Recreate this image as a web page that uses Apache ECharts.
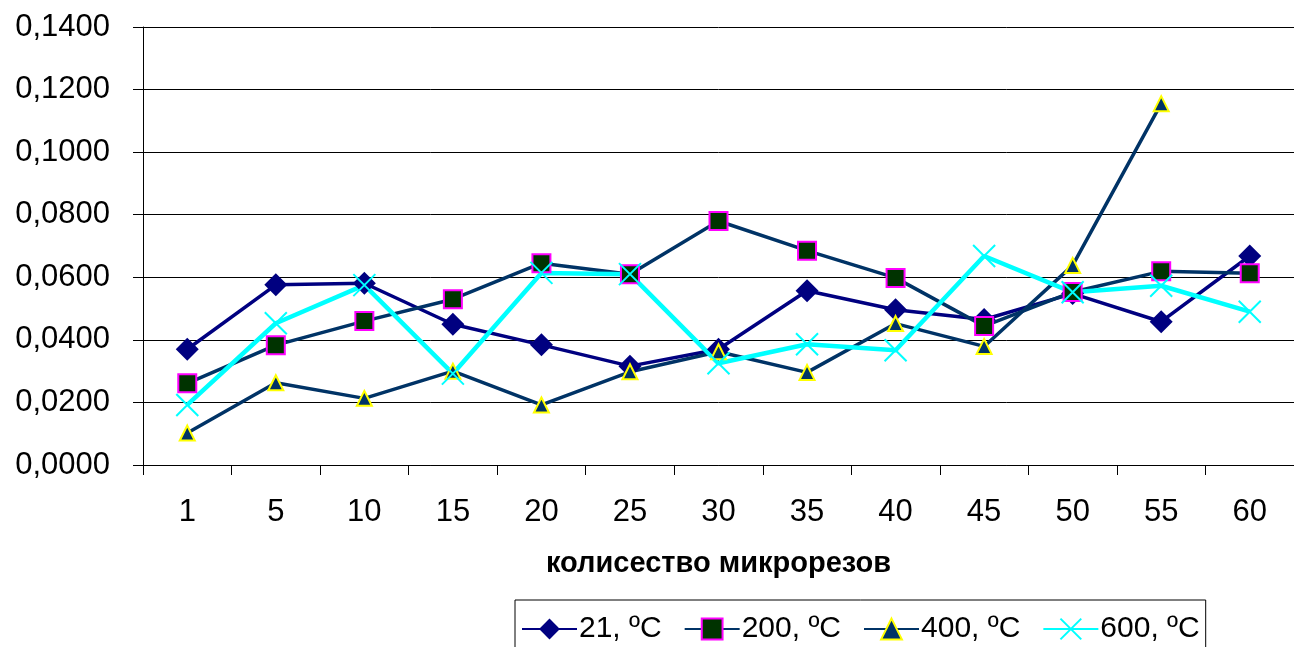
<!DOCTYPE html>
<html>
<head>
<meta charset="utf-8">
<script src="https://cdn.jsdelivr.net/npm/echarts@6/dist/echarts.min.js"></script>
<style>
  html, body { margin: 0; padding: 0; background: #fff; }
  #chart { width: 1294px; height: 647px; }
</style>
</head>
<body>
<div id="chart"></div>
<script>
// Number of micro-cuts (x categories)
const categories = ['1', '5', '10', '15', '20', '25', '30', '35', '40', '45', '50', '55', '60'];

// Measured values for each temperature
const t21  = [0.0370, 0.0576, 0.0581, 0.0450, 0.0384, 0.0316, 0.0370, 0.0557, 0.0496, 0.0465, 0.0548, 0.0458, 0.0668];
const t200 = [0.0261, 0.0383, 0.0460, 0.0530, 0.0645, 0.0610, 0.0780, 0.0685, 0.0598, 0.0444, 0.0553, 0.0619, 0.0613];
const t400 = [0.0102, 0.0263, 0.0213, 0.0300, 0.0192, 0.0298, 0.0362, 0.0296, 0.0452, 0.0379, 0.0638, 0.1155, null];
const t600 = [0.0192, 0.0453, 0.0575, 0.0292, 0.0614, 0.0610, 0.0325, 0.0386, 0.0367, 0.0668, 0.0552, 0.0573, 0.0490];

const seriesNames = ['21, ºC', '200, ºC', '400, ºC', '600, ºC'];
const yTicks = { min: 0, max: 0.14, step: 0.02 };
const xTitle = 'колисество микрорезов';

const FONT = "'Liberation Sans', Arial, sans-serif";
const chart = echarts.init(document.getElementById('chart'), null, { renderer: 'canvas' });

chart.setOption({
  animation: false,
  backgroundColor: '#ffffff',
  textStyle: { fontFamily: FONT },
  grid: { left: 143, right: -9, top: 27, bottom: 182, containLabel: false },
  legend: {
    left: 515,
    top: 600,
    padding: [14, 6, 14, 6],
    itemGap: 22,
    itemWidth: 55,
    itemHeight: 26,
    borderColor: '#000',
    borderWidth: 1,
    textStyle: { fontFamily: FONT, fontSize: 30, color: '#000', padding: [0, 0, 0, -3] },
    data: seriesNames
  },
  xAxis: {
    type: 'category',
    data: categories,
    boundaryGap: true,
    axisLine: { lineStyle: { color: '#000', width: 1 } },
    axisTick: { show: true, length: 10, lineStyle: { color: '#000' } },
    axisLabel: { fontFamily: FONT, fontSize: 31, color: '#000', margin: 32 },
    name: xTitle,
    nameLocation: 'middle',
    nameGap: 84,
    nameTextStyle: { fontFamily: FONT, fontSize: 29, fontWeight: 'bold', color: '#000' }
  },
  yAxis: {
    type: 'value',
    min: yTicks.min,
    max: yTicks.max,
    interval: yTicks.step,
    axisLine: { show: true, lineStyle: { color: '#000', width: 1 } },
    axisTick: { show: true, length: 10, lineStyle: { color: '#000' } },
    axisLabel: {
      fontFamily: FONT, fontSize: 31, color: '#000', margin: 33,
      formatter: v => v.toFixed(4).replace('.', ',')
    },
    splitLine: { show: true, lineStyle: { color: '#000', width: 1 } }
  },
  series: [
    {
      name: seriesNames[0], type: 'line', data: t21,
      symbol: 'diamond', symbolSize: 23,
      lineStyle: { color: '#000080', width: 3.5 },
      itemStyle: { color: '#000080', borderColor: '#000080', borderWidth: 0 }
    },
    {
      name: seriesNames[1], type: 'line', data: t200,
      symbol: 'rect', symbolSize: 18,
      lineStyle: { color: '#003366', width: 3.5 },
      itemStyle: { color: '#003300', borderColor: '#ff00ff', borderWidth: 2 }
    },
    {
      name: seriesNames[2], type: 'line', data: t400, connectNulls: false,
      symbol: 'triangle', symbolSize: 15,
      lineStyle: { color: '#003366', width: 3.5 },
      itemStyle: { color: '#003366', borderColor: '#ffff00', borderWidth: 2 }
    },
    {
      name: seriesNames[3], type: 'line', data: t600,
      symbol: 'path://M0,0L10,10M10,0L0,10', symbolSize: 22,
      lineStyle: { color: '#00ffff', width: 4.5 },
      itemStyle: { color: '#00ffff', borderColor: '#00ffff', borderWidth: 2 }
    }
  ]
});
</script>
</body>
</html>
